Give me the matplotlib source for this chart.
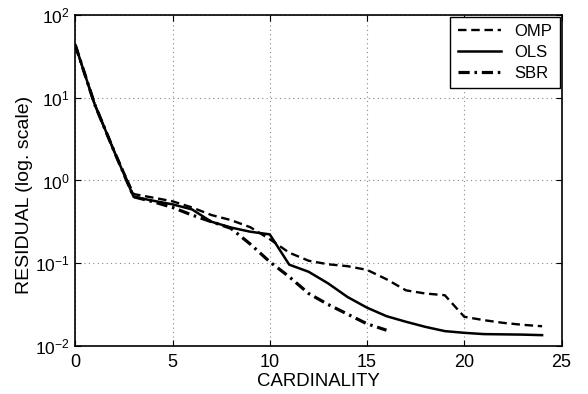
import matplotlib
matplotlib.use("Agg")
import matplotlib.pyplot as plt
from matplotlib.ticker import LogLocator, NullLocator, FixedLocator

plt.rcParams['font.family'] = ['Liberation Sans', 'DejaVu Sans']
plt.rcParams['mathtext.fontset'] = 'custom'
plt.rcParams['mathtext.rm'] = 'Liberation Sans'
plt.rcParams['mathtext.it'] = 'Liberation Sans'

omp_x = list(range(0, 25))
omp_y = [43.4, 8.3, 2.25, 0.685, 0.62, 0.56, 0.472, 0.382, 0.332, 0.272, 0.195,
         0.134, 0.107, 0.097, 0.092, 0.083, 0.064, 0.047, 0.043, 0.041, 0.0225,
         0.0205, 0.019, 0.018, 0.0173]

ols_x = list(range(0, 25))
ols_y = [43.4, 8.3, 2.25, 0.635, 0.569, 0.514, 0.447, 0.317, 0.27, 0.24, 0.223,
         0.096, 0.0787, 0.057, 0.039, 0.029, 0.0229, 0.0196, 0.017, 0.0151, 0.0144,
         0.0139, 0.0138, 0.0137, 0.0135]

sbr_x = list(range(0, 17))
sbr_y = [43.4, 8.3, 2.25, 0.635, 0.553, 0.472, 0.382, 0.317, 0.264, 0.17, 0.104,
         0.0685, 0.043, 0.0317, 0.0242, 0.0185, 0.0155]

x_ticks = [0, 5, 10, 15, 20, 25]

fig = plt.figure(figsize=(5.88, 3.94), dpi=100)
ax = fig.add_axes([0.128, 0.122, 0.827, 0.84])

ax.semilogy(omp_x, omp_y, color='black', linestyle=(0, (3.6, 2.0)), linewidth=1.7, label='OMP')
ax.semilogy(ols_x, ols_y, color='black', linestyle='-', linewidth=1.8, label='OLS')
ax.semilogy(sbr_x, sbr_y, color='black', linestyle=(0, (3.5, 1.5, 0.8, 1.5)), linewidth=2.3, label='SBR')

ax.set_xlim(0, 25)
ax.set_ylim(1e-2, 1e2)
ax.xaxis.set_major_locator(FixedLocator(x_ticks))
ax.yaxis.set_major_locator(LogLocator(base=10, numticks=10))
ax.yaxis.set_minor_locator(NullLocator())

ax.grid(True, which='major', linestyle=(0, (1, 3)), color='#888888', linewidth=0.8)
ax.tick_params(direction='in', top=True, right=True, length=4, width=0.8)
ax.tick_params(axis='x', labelsize=13, pad=6)
ax.tick_params(axis='y', labelsize=12.5, pad=4)
for s in ax.spines.values():
    s.set_linewidth(1.2)

ax.set_xlabel('CARDINALITY', fontsize=13.4, labelpad=1)
ax.set_ylabel('RESIDUAL (log. scale)', fontsize=14)
ax.yaxis.set_label_coords(-0.087, 0.456)

leg = ax.legend(loc='upper right', fontsize=12, fancybox=False, framealpha=1,
                edgecolor='black', borderaxespad=0.1, handlelength=2.6,
                handletextpad=0.8, labelspacing=0.35, borderpad=0.45)
leg.get_frame().set_linewidth(1.0)

fig.savefig('out.png', dpi=100)
